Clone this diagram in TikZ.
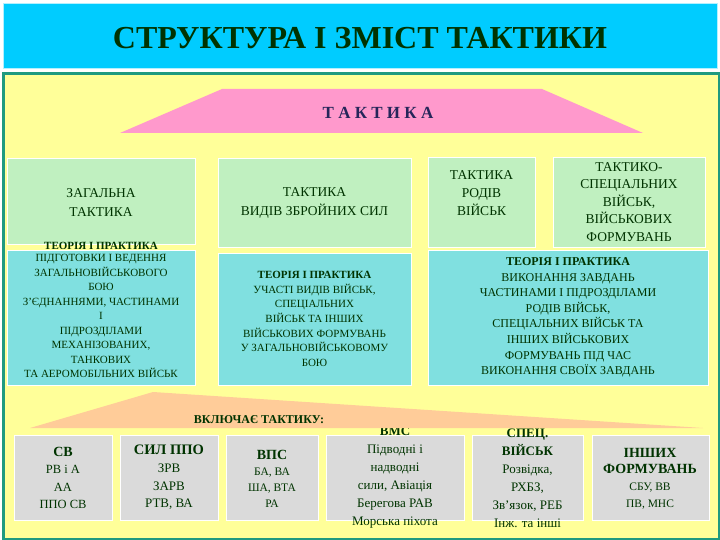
\documentclass[tikz,border=0pt]{standalone}
\usepackage{fontspec}
\setmainfont{Liberation Serif}
\definecolor{bannercol}{HTML}{00CCFF}
\definecolor{panelcol}{HTML}{FFFF99}
\definecolor{panelbord}{HTML}{1F9A80}
\definecolor{pinkcol}{HTML}{FF99CC}
\definecolor{peachcol}{HTML}{FFCC99}
\definecolor{greencol}{HTML}{C0F0C0}
\definecolor{cyancol}{HTML}{80E0E0}
\definecolor{graycol}{HTML}{DADADA}
\definecolor{textcol}{HTML}{003300}
\definecolor{navycol}{HTML}{26265A}
\newcommand{\fsz}[2]{\fontsize{#1}{#2}\selectfont}
\tikzset{
  boxbase/.style={rectangle, anchor=north west, inner sep=0pt, draw=white!60, line width=0.6pt},
  greenbox/.style={boxbase, fill=greencol},
  cyanbox/.style={boxbase, fill=cyancol},
  graybox/.style={boxbase, fill=graycol},
  txt/.style={align=center, inner sep=0pt, text=textcol},
}
\begin{document}
\begin{tikzpicture}[x=1pt,y=-1pt]
\useasboundingbox (0,0) rectangle (720,540);
\fill[white] (0,0) rectangle (720,540);
% banner
\node[rectangle, anchor=north west, inner sep=0pt, fill=bannercol, draw=white!70!bannercol, line width=0.8pt,
  minimum width=714pt, minimum height=65pt] (banner) at (3,3) {};
\node[txt, font=\bfseries\fsz{32}{35}] (title) at (360,38) {СТРУКТУРА І ЗМІСТ ТАКТИКИ};
% panel
\node[rectangle, anchor=north west, inner sep=0pt, fill=panelcol, draw=panelbord, line width=2.5pt,
  minimum width=716pt, minimum height=465pt] (panel) at (2,72.5) {};
% pink trapezoid
\fill[pinkcol] (120,133) -- (222,89) -- (542,89) -- (643,133) -- cycle;
\node[txt, text=navycol, font=\bfseries\fsz{17}{20}] (tak) at (378,113) {Т А К Т И К А};
% green boxes
\node[greenbox, minimum width=188pt, minimum height=86pt] (g1) at (7,158) {};
\node[greenbox, minimum width=193pt, minimum height=89pt] (g2) at (218,158) {};
\node[greenbox, minimum width=107pt, minimum height=90pt] (g3) at (428,157) {};
\node[greenbox, minimum width=152pt, minimum height=90pt] (g4) at (553,157) {};
\node[txt, font=\fsz{13.5}{19}] (g1t) at (101,202.5) {ЗАГАЛЬНА\\ТАКТИКА};
\node[txt, font=\fsz{13.5}{19}] (g2t) at (314.5,203) {ТАКТИКА\\ВИДІВ ЗБРОЙНИХ СИЛ};
\node[txt, font=\fsz{13.5}{18}] (g3t) at (481.5,193) {ТАКТИКА\\РОДІВ\\ВІЙСЬК};
\node[txt, font=\fsz{13.5}{17.5}] (g4t) at (629,202) {ТАКТИКО-\\СПЕЦІАЛЬНИХ\\ВІЙСЬК,\\ВІЙСЬКОВИХ\\ФОРМУВАНЬ};
% cyan boxes
\node[cyanbox, minimum width=188pt, minimum height=135pt] (c1) at (7,250) {};
\node[cyanbox, minimum width=193pt, minimum height=132pt] (c2) at (218,253) {};
\node[cyanbox, minimum width=280pt, minimum height=135pt] (c3) at (428,250) {};
\node[txt, font=\bfseries\fsz{11}{13}] (c1h) at (101,245.5) {ТЕОРІЯ І ПРАКТИКА};
\node[txt, font=\fsz{11}{14.5}] (c1t) at (101,316) {ПІДГОТОВКИ І ВЕДЕННЯ\\ЗАГАЛЬНОВІЙСЬКОВОГО\\БОЮ\\З’ЄДНАННЯМИ, ЧАСТИНАМИ\\І\\ПІДРОЗДІЛАМИ\\МЕХАНІЗОВАНИХ,\\ТАНКОВИХ\\ТА АЕРОМОБІЛЬНИХ ВІЙСЬК};
\node[txt, font=\fsz{11}{14.7}] (c2t) at (314.5,319) {\textbf{ТЕОРІЯ І ПРАКТИКА}\\УЧАСТІ ВИДІВ ВІЙСЬК,\\СПЕЦІАЛЬНИХ\\ВІЙСЬК ТА ІНШИХ\\ВІЙСЬКОВИХ ФОРМУВАНЬ\\У ЗАГАЛЬНОВІЙСЬКОВОМУ\\БОЮ};
\node[txt, font=\fsz{12}{15.6}] (c3t) at (568,317.5) {\textbf{ТЕОРІЯ І ПРАКТИКА}\\ВИКОНАННЯ ЗАВДАНЬ\\ЧАСТИНАМИ І ПІДРОЗДІЛАМИ\\РОДІВ ВІЙСЬК,\\СПЕЦІАЛЬНИХ ВІЙСЬК ТА\\ІНШИХ ВІЙСЬКОВИХ\\ФОРМУВАНЬ ПІД ЧАС\\ВИКОНАННЯ СВОЇХ ЗАВДАНЬ};
% gray boxes
\node[graybox, minimum width=98pt, minimum height=85pt] (s1) at (14,435) {};
\node[graybox, minimum width=98pt, minimum height=85pt] (s2) at (120,435) {};
\node[graybox, minimum width=92pt, minimum height=85pt] (s3) at (226,435) {};
\node[graybox, minimum width=138pt, minimum height=85pt] (s4) at (326,435) {};
\node[graybox, minimum width=111pt, minimum height=85pt] (s5) at (472,435) {};
\node[graybox, minimum width=117pt, minimum height=85pt] (s6) at (592,435) {};
\node[txt, font=\fsz{12.5}{17.3}] (s1t) at (63,478) {{\bfseries\fsz{14}{17.3}СВ}\\РВ і А\\АА\\ППО СВ};
\node[txt, font=\fsz{13}{17.7}] (s2t) at (169,477.5) {{\bfseries\fsz{14.5}{17.7}СИЛ ППО}\\ЗРВ\\ЗАРВ\\РТВ, ВА};
\node[txt, font=\fsz{11.5}{16}] (s3t) at (272,479) {{\bfseries\fsz{14}{16}ВПС}\\БА, ВА\\ША, ВТА\\РА};
\node[txt, font=\fsz{13}{18}] (s4t) at (395,478) {{\bfseries ВМС}\\Підводні і\\надводні\\сили, Авіація\\Берегова РАВ\\Морська піхота};
\node[txt, font=\fsz{13}{18}] (s5t) at (527.5,478) {{\bfseries СПЕЦ.}\\{\bfseries ВІЙСЬК}\\Розвідка,\\РХБЗ,\\Зв’язок, РЕБ\\Інж. та інші};
\node[txt, font=\fsz{11.5}{16.7}] (s6t) at (650,478.5) {{\bfseries\fsz{14}{16.7}ІНШИХ}\\{\bfseries\fsz{14}{16.7}ФОРМУВАНЬ}\\СБУ, ВВ\\ПВ, МНС};
% peach shape (drawn over the tops of the texts)
\fill[peachcol] (30,428) -- (153,392) -- (703,428) -- cycle;
\node[txt, font=\bfseries\fsz{12}{14}] (incl) at (259,420) {ВКЛЮЧАЄ ТАКТИКУ:};
\end{tikzpicture}
\end{document}
